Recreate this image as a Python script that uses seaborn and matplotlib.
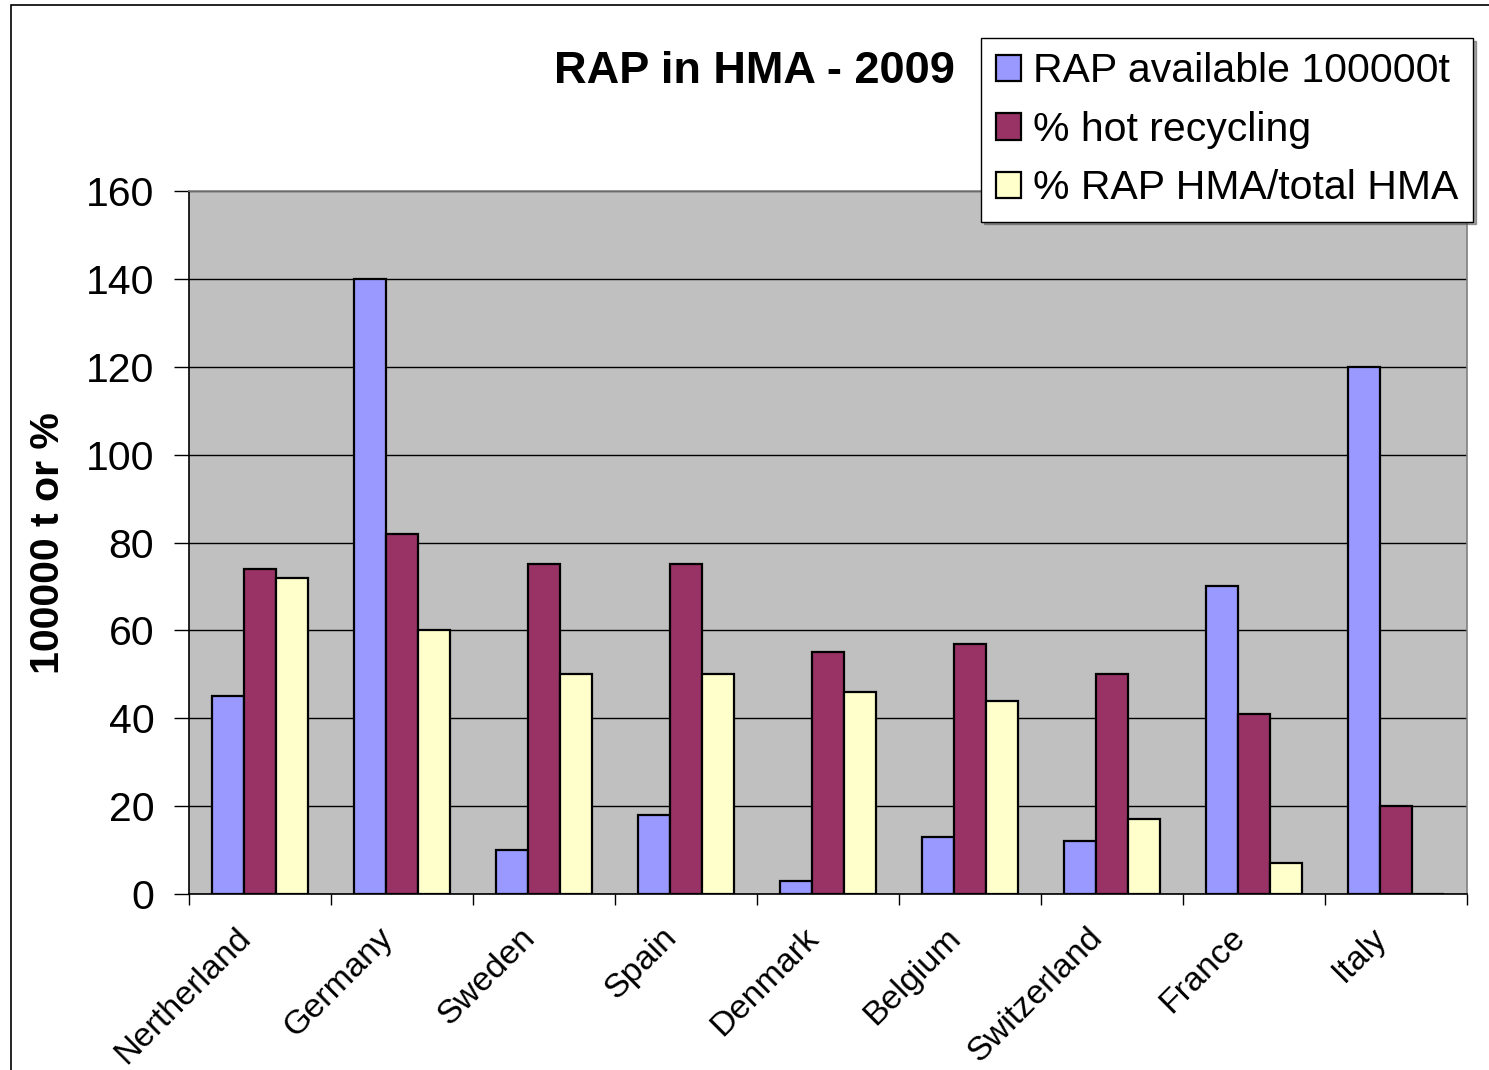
import pandas as pd
import matplotlib.pyplot as plt
import matplotlib.transforms as mtransforms
from matplotlib.patches import Rectangle, Patch
import seaborn as sns

# Dados
paises = ['Nertherland', 'Germany', 'Sweden', 'Spain', 'Denmark',
          'Belgium', 'Switzerland', 'France', 'Italy']
series = ['RAP available 100000t', '% hot recycling', '% RAP HMA/total HMA']
rap_disponivel = [45, 140, 10, 18, 3, 13, 12, 70, 120]
reciclagem_quente = [74, 82, 75, 75, 55, 57, 50, 41, 20]
rap_hma_total = [72, 60, 50, 50, 46, 44, 17, 7, 0]
cores = ['#9999FF', '#993366', '#FFFFCC']

dados = pd.DataFrame({
    'Pais': paises * 3,
    'Serie': [series[0]] * 9 + [series[1]] * 9 + [series[2]] * 9,
    'Valor': rap_disponivel + reciclagem_quente + rap_hma_total,
})

sns.set_style('white')
plt.rcParams['font.family'] = ['Liberation Sans', 'DejaVu Sans']
plt.rcParams['text.color'] = 'black'
plt.rcParams['xtick.color'] = 'black'
plt.rcParams['ytick.color'] = 'black'

fig = plt.figure(figsize=(14.89, 10.70), dpi=100)
ax = fig.add_axes([189 / 1489, 176 / 1070, 1278 / 1489, 703 / 1070])
ax.set_facecolor('#C0C0C0')

sns.barplot(data=dados, x='Pais', y='Valor', hue='Serie', palette=cores,
            saturation=1, width=0.68, gap=0, edgecolor='black', linewidth=1.6,
            legend=False, ax=ax, zorder=3)

# Eixos
ax.set_ylim(0, 160)
ax.set_xlim(-0.5, 8.5)
ax.set_yticks(range(0, 161, 20))
ax.set_xlabel('')
ax.set_ylabel('')
ax.grid(axis='y', color='black', linewidth=1.0, zorder=1)
ax.set_axisbelow(True)
ax.tick_params(axis='y', labelsize=29.5, length=11, width=1, direction='out',
               color='black', left=True, pad=14)
ax.tick_params(axis='x', which='major', length=0, labelsize=24.5, pad=28)
ax.set_xticks([i - 0.5 for i in range(10)], minor=True)
ax.tick_params(axis='x', which='minor', length=8, width=1, direction='out',
               color='black', bottom=True)
for spine in ['top', 'right']:
    ax.spines[spine].set_color('#808080')
    ax.spines[spine].set_linewidth(1.2)
for spine in ['left', 'bottom']:
    ax.spines[spine].set_color('black')
    ax.spines[spine].set_linewidth(1.2)

desloc = mtransforms.ScaledTranslation(-14 / 100, 0, fig.dpi_scale_trans)
for rotulo in ax.get_xticklabels():
    rotulo.set_rotation(45)
    rotulo.set_ha('right')
    rotulo.set_va('center')
    rotulo.set_rotation_mode('anchor')
    rotulo.set_transform(rotulo.get_transform() + desloc)

# Título e rótulo do eixo y
fig.text(0.507, 0.933, 'RAP in HMA - 2009', ha='center', va='center',
         fontsize=32.5, fontweight='bold')
fig.text(0.032, 0.4925, '100000 t or %', ha='center', va='center',
         rotation=90, fontsize=29.5, fontweight='bold')

# Legenda
handles = [Patch(facecolor=c, edgecolor='black', linewidth=1.6) for c in cores]
leg = fig.legend(handles, series, loc='upper right',
                 bbox_to_anchor=(1473 / 1489, 1 - 38 / 1070),
                 fontsize=29.5, frameon=True, fancybox=False, shadow=True,
                 handlelength=0.62, handleheight=0.62, handletextpad=0.3,
                 labelspacing=0.5, borderpad=0.35, borderaxespad=0)
leg.get_frame().set_edgecolor('black')
leg.get_frame().set_linewidth(1.0)

# Moldura externa
fig.patches.append(Rectangle((11 / 1489, -0.1), 1.2, 1.1 - 5 / 1070,
                             transform=fig.transFigure, fill=False,
                             edgecolor='black', linewidth=1.2))

plt.savefig('out.png', dpi=100)
